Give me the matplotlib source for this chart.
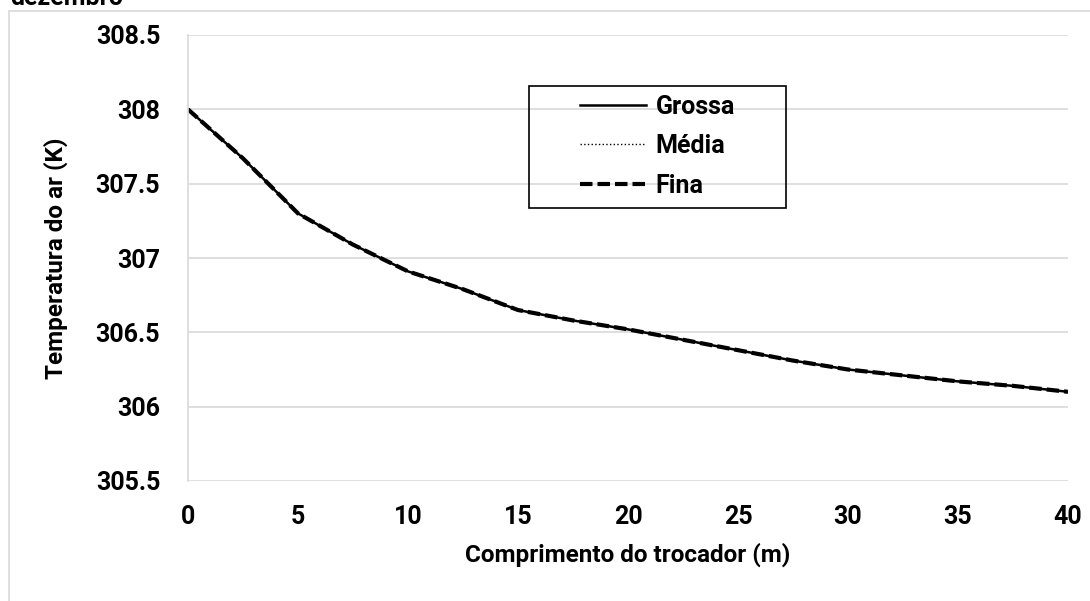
import matplotlib.pyplot as plt
from matplotlib.patches import Rectangle

plt.rcParams['font.family'] = ['Roboto', 'DejaVu Sans']

# comprimento do trocador (m)
x = [0, 2.5, 5, 7.5, 10, 12.5, 15, 17.5, 20, 22.5, 25, 27.5, 30, 32.5, 35, 37.5, 40]
# temperatura do ar (K) para cada malha
grossa = [308.0, 307.67, 307.30, 307.09, 306.91, 306.79, 306.65, 306.58, 306.52,
          306.45, 306.38, 306.31, 306.25, 306.21, 306.17, 306.14, 306.10]
media = [308.0, 307.67, 307.30, 307.09, 306.91, 306.79, 306.65, 306.58, 306.52,
         306.45, 306.38, 306.31, 306.25, 306.21, 306.17, 306.14, 306.10]
fina = [308.0, 307.67, 307.30, 307.09, 306.91, 306.79, 306.65, 306.58, 306.52,
        306.45, 306.38, 306.31, 306.25, 306.21, 306.17, 306.14, 306.10]

fig = plt.figure(figsize=(10.9, 6.01), dpi=100)
# moldura do grafico
fig.patches.append(Rectangle((9/1090, -0.1), 1.1, 1.1 - 11/601, transform=fig.transFigure,
                             fill=False, edgecolor='#d9d9d9', linewidth=1.2))
fig.text(10/1090, 1 - 5/601, 'dezembro', fontsize=18, fontweight='bold', va='baseline', ha='left')

ax = fig.add_axes([188/1090, 1 - 481/601, 880/1090, 446/601])
ax.plot(x, grossa, color='black', linewidth=1.8, linestyle='-', label='Grossa')
ax.plot(x, media, color='black', linewidth=1.0, linestyle=':', label='Média')
ax.plot(x, fina, color='black', linewidth=3.0, linestyle=(0, (3, 1.2)), label='Fina')

ax.set_xlim(0, 40)
ax.set_ylim(305.5, 308.5)
ax.set_xticks(range(0, 41, 5))
ax.set_yticks([305.5, 306, 306.5, 307, 307.5, 308, 308.5])
ax.set_yticklabels(['305.5', '306', '306.5', '307', '307.5', '308', '308.5'])
ax.grid(axis='y', color='#d9d9d9', linewidth=1.2)
ax.set_axisbelow(True)
for s in ['top', 'right', 'bottom']:
    ax.spines[s].set_visible(False)
ax.spines['left'].set_color('#d9d9d9')
ax.spines['left'].set_linewidth(1.2)
ax.tick_params(length=0, labelsize=18)
ax.tick_params(axis='y', pad=20)
ax.tick_params(axis='x', pad=17)
for lab in ax.get_xticklabels() + ax.get_yticklabels():
    lab.set_fontweight('bold')

ax.set_xlabel('Comprimento do trocador (m)', fontsize=17.5, fontweight='bold', labelpad=10)
ax.set_ylabel('Temperatura do ar (K)', fontsize=17.5, fontweight='bold', labelpad=20)

# caixa da legenda
ax.add_patch(Rectangle((0.3875, 0.612), 0.292, 0.274, transform=ax.transAxes,
                       fill=False, edgecolor='black', linewidth=1.2, zorder=5))
leg = ax.legend(loc='center', bbox_to_anchor=(0.5335, 0.751), fontsize=18,
                frameon=False, handlelength=2.64, handletextpad=0.4,
                borderpad=0, labelspacing=0.62, borderaxespad=0)
for t in leg.get_texts():
    t.set_fontweight('bold')

fig.savefig('out.png', dpi=100)
